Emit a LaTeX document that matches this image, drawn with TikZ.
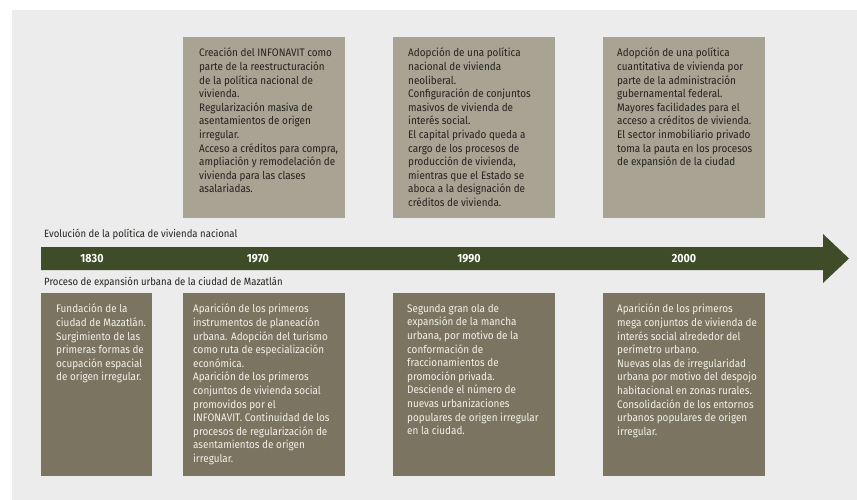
\documentclass[tikz,border=0pt]{standalone}
\usepackage{fontspec}
\setmainfont{Fira Sans}[FakeStretch=0.91]
\usetikzlibrary{positioning}

\definecolor{fond}{HTML}{ECECEC}
\definecolor{kaki}{HTML}{A8A393}
\definecolor{olive}{HTML}{7A7460}
\definecolor{vert}{HTML}{3E4D27}
\definecolor{encre}{HTML}{23221E}
\definecolor{clair}{HTML}{F3F1EA}

\tikzset{
  boite/.style={rectangle, anchor=north west, inner sep=0pt, minimum width=162pt},
  boitehaut/.style={boite, fill=kaki, minimum height=181pt},
  boitebas/.style={boite, fill=olive, minimum height=183pt},
  texte/.style={anchor=north west, inner sep=0pt, align=left, font=\fontsize{10.9}{13.6}\selectfont},
  textehaut/.style={texte, text=encre},
  textebas/.style={texte, text=clair},
  annee/.style={text=white, font=\fontsize{11.8}{13}\selectfont\bfseries},
  titre/.style={anchor=west, inner sep=0pt, text=encre, font=\fontsize{10.5}{12}\selectfont}
}

\begin{document}
\begin{tikzpicture}[x=1pt,y=-1pt]
\useasboundingbox (0,0) rectangle (857,500);
\fill[fond] (12,10) rectangle (857,500); %% le fond gris

%% les boites du haut
\node[boitehaut] (hautA) at (183,37) {};
\node[boitehaut] (hautB) at (393,37) {};
\node[boitehaut] (hautC) at (603,37) {};

\node[textehaut, below right=11pt and 16pt of hautA.north west] (txtA) {Creación del INFONAVIT como\\parte de la reestructuración\\de la política nacional de\\vivienda.\\Regularización masiva de\\asentamientos de origen\\irregular.\\Acceso a créditos para compra,\\ampliación y remodelación de\\vivienda para las clases\\asalariadas.};
\node[textehaut, below right=11pt and 15pt of hautB.north west] (txtB) {Adopción de una política\\nacional de vivienda\\neoliberal.\\Configuración de conjuntos\\masivos de vivienda de\\interés social.\\El capital privado queda a\\cargo de los procesos de\\producción de vivienda,\\mientras que el Estado se\\aboca a la designación de\\créditos de vivienda.};
\node[textehaut, below right=11pt and 14pt of hautC.north west] (txtC) {Adopción de una política\\cuantitativa de vivienda por\\parte de la administración\\gubernamental federal.\\Mayores facilidades para el\\acceso a créditos de vivienda.\\El sector inmobiliario privado\\toma la pauta en los procesos\\de expansión de la ciudad};

%% la fleche du temps
\fill[vert] (41,247) -- (823,247) -- (823,234) -- (849,258.5) -- (823,283) -- (823,270) -- (41,270) -- cycle;
\node[annee] (a1830) at (92,258.5) {1830};
\node[annee] (a1970) at (258,258.5) {1970};
\node[annee] (a1990) at (469,258.5) {1990};
\node[annee] (a2000) at (684,258.5) {2000};

%% titres
\node[titre] (evolucion) at (44,234.5) {Evolución de la política de vivienda nacional};
\node[titre] (proceso) at (44,282.5) {Proceso de expansión urbana de la ciudad de Mazatlán};

%% les boites du bas
\node[boitebas, minimum width=111pt] (basA) at (41,293) {};
\node[boitebas] (basB) at (183,293) {};
\node[boitebas] (basC) at (393,293) {};
\node[boitebas] (basD) at (603,293) {};

\node[textebas, below right=11pt and 15pt of basA.north west] (txtbA) {Fundación de la\\ciudad de Mazatlán.\\Surgimiento de las\\primeras formas de\\ocupación espacial\\de origen irregular.};
\node[textebas, below right=11pt and 10pt of basB.north west] (txtbB) {Aparición de los primeros\\instrumentos de planeación\\urbana. Adopción del turismo\\como ruta de especialización\\económica.\\Aparición de los primeros\\conjuntos de vivienda social\\promovidos por el\\INFONAVIT. Continuidad de los\\procesos de regularización de\\asentamientos de origen\\irregular.};
\node[textebas, below right=11pt and 14pt of basC.north west] (txtbC) {Segunda gran ola de\\expansión de la mancha\\urbana, por motivo de la\\conformación de\\fraccionamientos de\\promoción privada.\\Desciende el número de\\nuevas urbanizaciones\\populares de origen irregular\\en la ciudad.};
\node[textebas, below right=11pt and 14pt of basD.north west] (txtbD) {Aparición de los primeros\\mega conjuntos de vivienda de\\interés social alrededor del\\perímetro urbano.\\Nuevas olas de irregularidad\\urbana por motivo del despojo\\habitacional en zonas rurales.\\Consolidación de los entornos\\urbanos populares de origen\\irregular.};
\end{tikzpicture}
\end{document}
